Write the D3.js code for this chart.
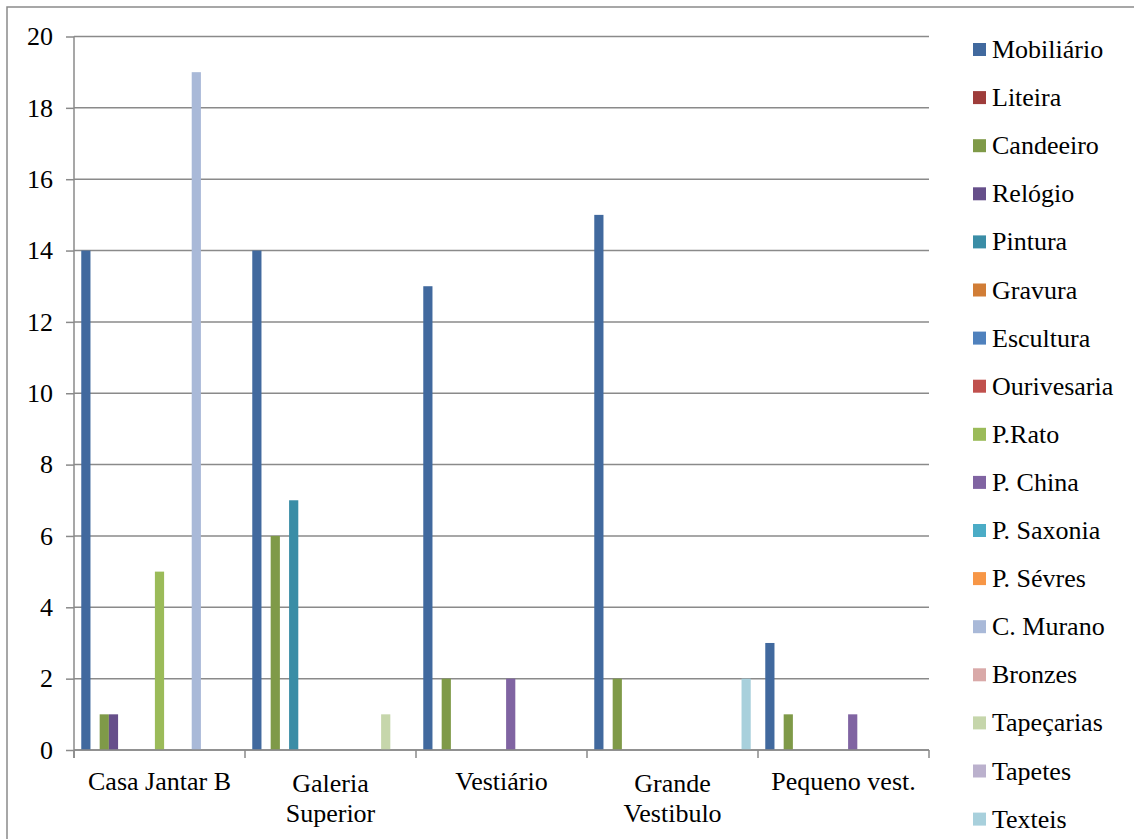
<!DOCTYPE html>
<html>
<head>
<meta charset="utf-8">
<script src="https://cdn.jsdelivr.net/npm/d3@7"></script>
<style>
  body { margin: 0; background: #fff; }
  svg { display: block; }
  #chart text.lbl { font-family: "Liberation Serif", Tinos, "Times New Roman", serif !important; font-size: 26px !important; }
</style>
</head>
<body>
<svg id="chart" width="1134" height="839"></svg>
<script>
// ---- data ----
const categories = ["Casa Jantar B", "Galeria Superior", "Vestiário", "Grande Vestibulo", "Pequeno vest."];
const seriesNames = ["Mobiliário", "Liteira", "Candeeiro", "Relógio", "Pintura", "Gravura", "Escultura",
  "Ourivesaria", "P.Rato", "P. China", "P. Saxonia", "P. Sévres", "C. Murano", "Bronzes",
  "Tapeçarias", "Tapetes", "Texteis"];
const seriesColors = ["#41699E", "#9E3C3A", "#7F9A48", "#664F8A", "#3A8DA6", "#D17D36", "#4F81BD",
  "#C0504D", "#9BBB59", "#8064A2", "#4BACC6", "#F79646", "#A9B9D8", "#D9A9A8",
  "#C6D6AB", "#BBB1CD", "#A8D0DC"];
// values per category, in series order
const casaJantarB     = [14, 0, 1, 1, 0, 0, 0, 0, 5, 0, 0, 0, 19, 0, 0, 0, 0];
const galeriaSuperior = [14, 0, 6, 0, 7, 0, 0, 0, 0, 0, 0, 0, 0, 0, 1, 0, 0];
const vestiario       = [13, 0, 2, 0, 0, 0, 0, 0, 0, 2, 0, 0, 0, 0, 0, 0, 0];
const grandeVestibulo = [15, 0, 2, 0, 0, 0, 0, 0, 0, 0, 0, 0, 0, 0, 0, 0, 2];
const pequenoVest     = [3, 0, 1, 0, 0, 0, 0, 0, 0, 1, 0, 0, 0, 0, 0, 0, 0];
const yTicks = [0, 2, 4, 6, 8, 10, 12, 14, 16, 18, 20];

const valuesByCategory = [casaJantarB, galeriaSuperior, vestiario, grandeVestibulo, pequenoVest];

const FONT = '"Liberation Serif", Tinos, "Times New Roman", serif';

// ---- layout ----
const svg = d3.select("#chart");
const plotLeft = 74, plotRight = 929, plotTop = 36.5, plotBottom = 750;

// outer frame
svg.append("rect").attr("x", 7).attr("y", 7).attr("width", 1140).attr("height", 840)
  .attr("fill", "none").attr("stroke", "#8a8a8a").attr("stroke-width", 1.5);

const x0 = d3.scaleBand().domain(categories).range([plotLeft, plotRight]).paddingInner(0).paddingOuter(0);
const x1 = d3.scaleBand().domain(seriesNames).range([0, x0.bandwidth()]).paddingInner(0).paddingOuter(0.79);
const y = d3.scaleLinear().domain([0, 20]).range([plotBottom, plotTop]);
const color = d3.scaleOrdinal().domain(seriesNames).range(seriesColors);

// gridlines
svg.append("g").selectAll("line").data(yTicks).join("line")
  .attr("x1", plotLeft).attr("x2", plotRight)
  .attr("y1", d => y(d)).attr("y2", d => y(d))
  .attr("stroke", "#8a8a8a").attr("stroke-width", 1.5);

// y axis
const yAxis = svg.append("g").attr("transform", `translate(${plotLeft},0)`)
  .call(d3.axisLeft(y).tickValues(yTicks).tickSizeInner(8).tickSizeOuter(0).tickPadding(13))
  .attr("font-family", FONT).attr("font-size", 26);
yAxis.select(".domain").remove();
yAxis.selectAll(".tick line").attr("stroke", "#8a8a8a").attr("stroke-width", 1.5);
yAxis.selectAll(".tick text").attr("class", "lbl").attr("font-family", FONT).attr("font-size", 26).attr("fill", "#000");
svg.append("line").attr("x1", plotLeft).attr("x2", plotLeft).attr("y1", plotTop).attr("y2", plotBottom + 8)
  .attr("stroke", "#8a8a8a").attr("stroke-width", 1.5);

// bars
const groups = svg.append("g").selectAll("g").data(categories).join("g")
  .attr("transform", d => `translate(${x0(d)},0)`);
groups.selectAll("rect")
  .data((c, i) => seriesNames.map((s, j) => ({ series: s, value: valuesByCategory[i][j] })).filter(d => d.value > 0))
  .join("rect")
  .attr("x", d => x1(d.series))
  .attr("width", x1.bandwidth())
  .attr("y", d => y(d.value))
  .attr("height", d => y(0) - y(d.value))
  .attr("fill", d => color(d.series));

// x axis line + boundary ticks
svg.append("line").attr("x1", plotLeft).attr("x2", plotRight).attr("y1", plotBottom).attr("y2", plotBottom)
  .attr("stroke", "#8a8a8a").attr("stroke-width", 1.5);
const boundaries = categories.map(c => x0(c)).concat([x0(categories[categories.length - 1]) + x0.bandwidth()]);
svg.append("g").selectAll("line").data(boundaries).join("line")
  .attr("x1", d => d).attr("x2", d => d).attr("y1", plotBottom).attr("y2", plotBottom + 8)
  .attr("stroke", "#8a8a8a").attr("stroke-width", 1.5);

// x labels (wrapped)
const xAxis = svg.append("g").attr("transform", `translate(0,${plotBottom})`)
  .call(d3.axisBottom(x0).tickSize(0).tickPadding(0))
  .attr("font-family", FONT).attr("font-size", 26);
xAxis.select(".domain").remove();
xAxis.selectAll(".tick text").attr("class", "lbl").attr("font-family", FONT).attr("font-size", 26).attr("fill", "#000")
  .attr("dy", null).attr("y", 40)
  .each(function (d) {
    const t = d3.select(this);
    const words = d.split(" ");
    t.text(d);
    if (this.getComputedTextLength() > 160 && words.length > 1) {
      t.text(null);
      const half = Math.ceil(words.length / 2);
      const lines = [words.slice(0, half).join(" "), words.slice(half).join(" ")];
      lines.forEach((ln, k) => t.append("tspan").attr("x", 0).attr("y", 42 + k * 30).text(ln));
    }
  });

// legend
const legend = svg.append("g").attr("font-family", FONT).attr("font-size", 26)
  .selectAll("g").data(seriesNames).join("g")
  .attr("transform", (d, i) => `translate(973,${49.5 + i * 48.1})`);
legend.append("rect").attr("x", 0).attr("y", -6.5).attr("width", 13).attr("height", 13)
  .attr("fill", d => color(d));
legend.append("text").attr("class", "lbl").attr("x", 19).attr("y", 0).attr("dy", "0.33em")
  .attr("font-family", FONT).attr("font-size", 26).attr("fill", "#000").text(d => d);
</script>
</body>
</html>
